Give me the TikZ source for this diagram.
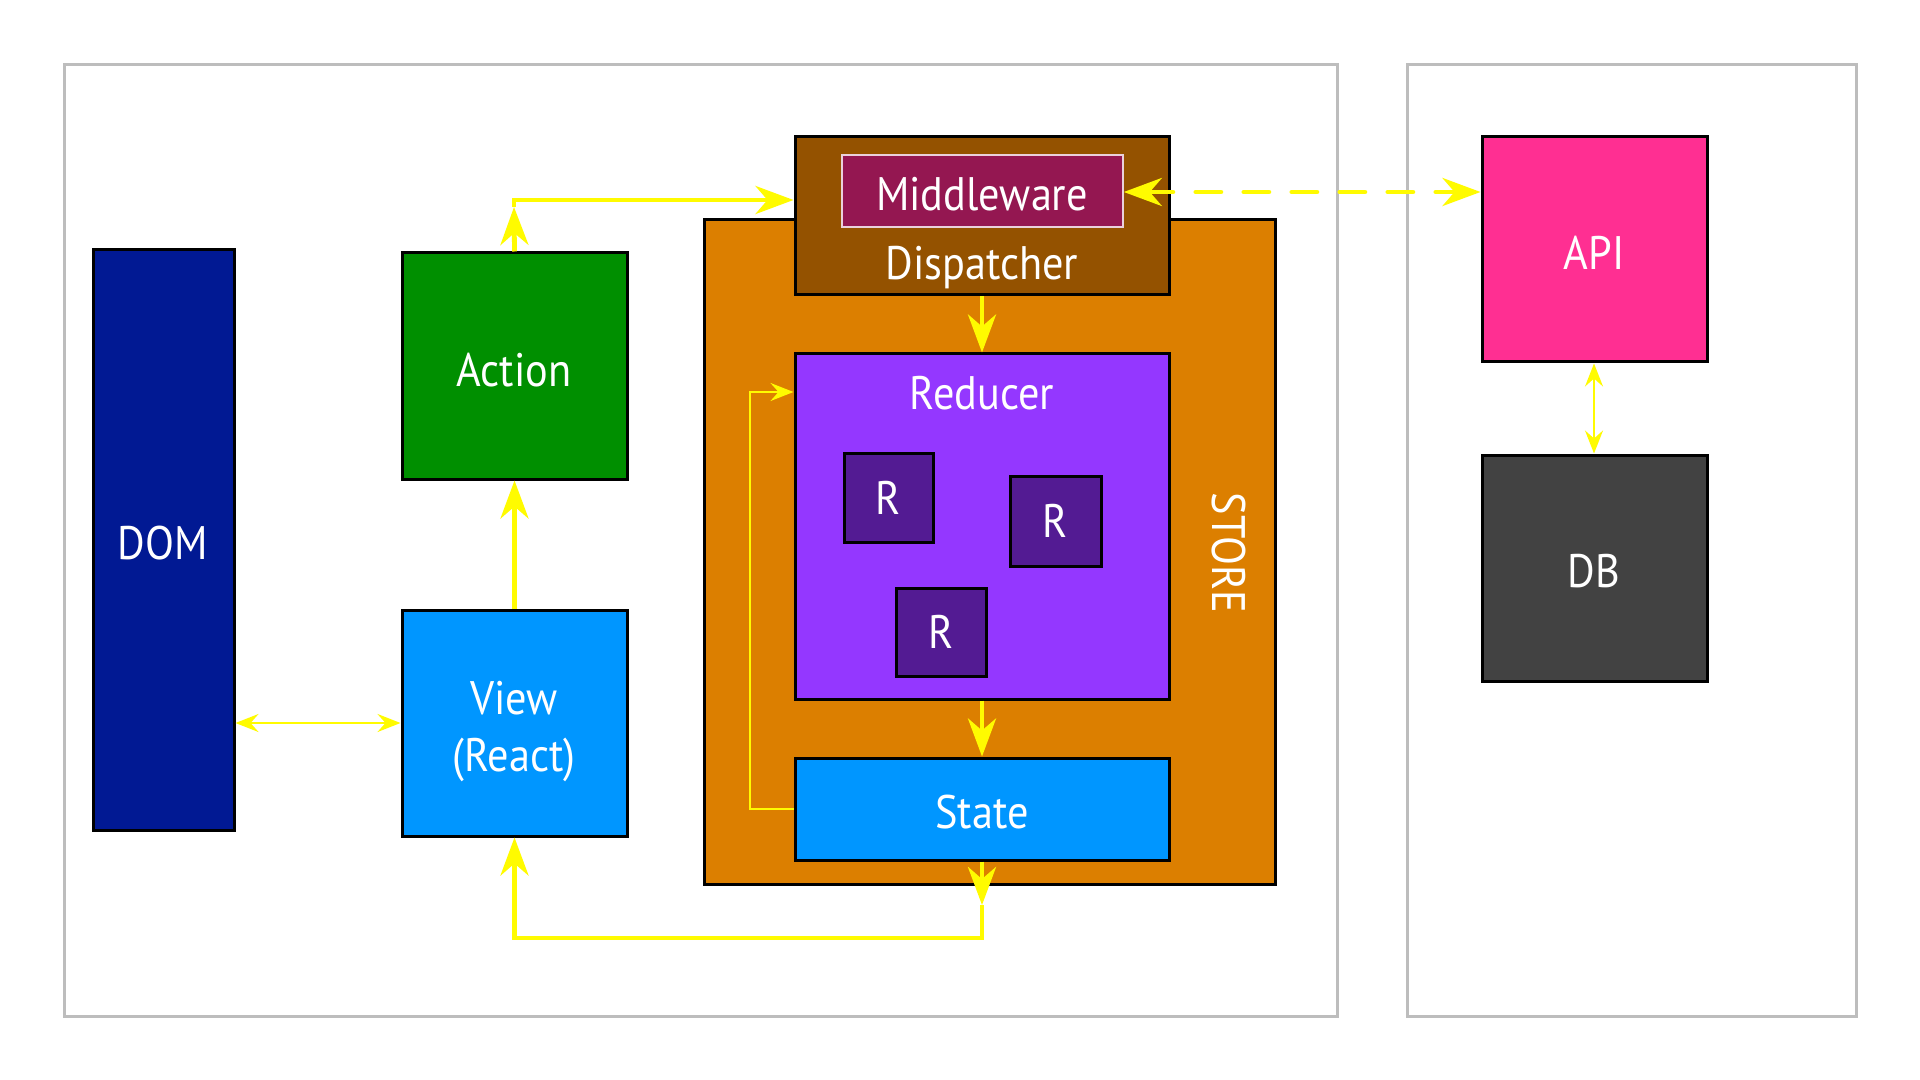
\documentclass[tikz,border=0pt]{standalone}
\usepackage{fontspec}
\setmainfont{PT Sans}[FakeStretch=0.9]
\usetikzlibrary{arrows.meta,fit}
\definecolor{ylw}{HTML}{FFFB00}
\definecolor{domc}{HTML}{011993}
\definecolor{actc}{HTML}{008F00}
\definecolor{viewc}{HTML}{0096FF}
\definecolor{storec}{HTML}{DC7F00}
\definecolor{dispc}{HTML}{945200}
\definecolor{mwc}{HTML}{941751}
\definecolor{redc}{HTML}{9437FF}
\definecolor{rc}{HTML}{531B93}
\definecolor{apic}{HTML}{FF2F92}
\definecolor{dbc}{HTML}{424242}
\definecolor{panelc}{HTML}{BDBDBD}
\begin{document}
\begin{tikzpicture}[x=0.5pt,y=-0.5pt,
  box/.style={draw=black, line width=1.5pt, inner sep=0pt},
  panel/.style={draw=panelc, line width=1.5pt, inner sep=0pt},
  txt/.style={text=white, inner sep=0pt, font=\fontsize{23.5}{28.5}\selectfont},
  bigarrow/.style={draw=ylw, line width=2.4pt, -{Stealth[length=19pt,width=14pt,inset=6pt]}},
  thinarrow/.style={draw=ylw, line width=1.2pt, -{Stealth[length=11.5pt,width=9pt,inset=4pt]}},
  dasharrow/.style={draw=ylw, line width=2.4pt, line cap=round, dash pattern=on 12.5pt off 11.5pt,
    {Stealth[length=19pt,width=14pt,inset=6pt]}-{Stealth[length=19pt,width=14pt,inset=6pt]}},
]
\useasboundingbox[fill=white] (0,0) rectangle (1920,1080);
% panels
\node[panel, fit={(64,65) (1337,1016)}] (leftpanel) {};
\node[panel, fit={(1407,65) (1856,1016)}] (rightpanel) {};
% boxes
\node[box, fill=domc, fit={(93,250) (234,830)}] (dom) {};
\node[box, fill=actc, fit={(402,253) (627,479)}] (action) {};
\node[box, fill=viewc, fit={(402,610) (627,836)}] (view) {};
\node[box, fill=storec, fit={(704,220) (1275,884)}] (store) {};
\node[box, fill=dispc, fit={(795,137) (1169,295)}] (disp) {};
\node[draw=white!80!mwc, line width=0.8pt, inner sep=0pt, fill=mwc, fit={(842,155) (1123,227)}] (mw) {};
\node[box, fill=redc, fit={(795,354) (1169,699)}] (reducer) {};
\node[box, fill=rc, fit={(844,453) (933,542)}] (r1) {};
\node[box, fill=rc, fit={(1010,476) (1101,566)}] (r2) {};
\node[box, fill=rc, fit={(896,588) (986,676)}] (r3) {};
\node[box, fill=viewc, fit={(795,758) (1169,860)}] (state) {};
\node[box, fill=apic, fit={(1482,137) (1707,362)}] (api) {};
\node[box, fill=dbc, fit={(1482,455) (1707,681)}] (db) {};
% texts
\node[txt] (domtext) at (163,543) {DOM};
\node[txt] (acttext) at (514,370) {Action};
\node[txt, align=center] (viewtext) at (514,732) {View\\(React)};
\node[txt] (mwtext) at (982,194) {Middleware};
\node[txt] (disptext) at (982,268) {Dispatcher};
\node[txt] (redtext) at (982,393) {Reducer};
\node[txt] (r1text) at (r1) {R};
\node[txt] (r2text) at (r2) {R};
\node[txt] (r3text) at (r3) {R};
\node[txt] (statetext) at (982,812) {State};
\node[txt, rotate=-90] (storetext) at (1229,553) {STORE};
\node[txt] (apitext) at (1594,253) {API};
\node[txt] (dbtext) at (1594,571) {DB};
% connectors
\coordinate (aup) at (514,207);
\coordinate (acorner) at (514,200);
\draw[bigarrow] (action.north) -- (aup);
\draw[bigarrow] (aup) |- (disp.west |- acorner);
\draw[bigarrow] (view.north) -- (action.south);
\draw[bigarrow] (disp.south) -- (reducer.north);
\draw[bigarrow] (reducer.south) -- (state.north);
\coordinate (smid) at (982,905);
\coordinate (sbottom) at (982,938);
\draw[bigarrow] (state.south) -- (smid);
\draw[bigarrow] (smid) -- (sbottom) -| (view.south);
\coordinate (loopx) at (750,809);
\draw[thinarrow] (state.west |- loopx) -- (loopx) |- (reducer.west |- 0,392);
\draw[thinarrow, {Stealth[length=11.5pt,width=9pt,inset=4pt]}-{Stealth[length=11.5pt,width=9pt,inset=4pt]}] (dom.east |- view.west) -- (view.west);
\draw[thinarrow, {Stealth[length=11.5pt,width=9pt,inset=4pt]}-{Stealth[length=11.5pt,width=9pt,inset=4pt]}] (api.south -| 1594,0) -- (db.north -| 1594,0);
\coordinate (mwy) at (0,192);
\draw[dasharrow] (mw.east |- mwy) -- (api.west |- mwy);
\end{tikzpicture}
\end{document}
